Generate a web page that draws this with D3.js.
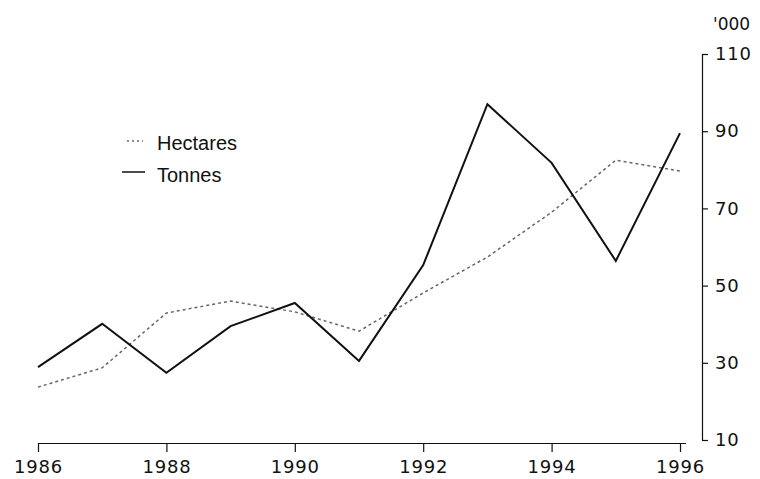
<!DOCTYPE html>
<html>
<head>
<meta charset="utf-8">
<script src="https://cdn.jsdelivr.net/npm/d3@7"></script>
<style>
  html, body { margin: 0; padding: 0; background: #fff; }
  svg { display: block; }
  .tick text { font-family: "DejaVu Sans", sans-serif; font-size: 18px; fill: #111; letter-spacing: 0.8px; }
</style>
</head>
<body>
<svg id="chart" width="760" height="479"></svg>
<script>
const years = [1986, 1987, 1988, 1989, 1990, 1991, 1992, 1993, 1994, 1995, 1996];
const hectares = [23.7, 28.7, 42.9, 46.0, 43.2, 38.2, 48.1, 57.4, 69.0, 82.5, 79.7];
const tonnes = [28.9, 40.1, 27.4, 39.5, 45.5, 30.5, 55.3, 97.0, 81.8, 56.4, 89.5];
const xTicks = [1986, 1988, 1990, 1992, 1994, 1996];
const yTicks = [10, 30, 50, 70, 90, 110];
const seriesNames = ["Hectares", "Tonnes"];
const unitLabel = "'000";

const svg = d3.select("#chart");
const x = d3.scaleLinear().domain([1986, 1996]).range([38, 680]);
const y = d3.scaleLinear().domain([10, 110]).range([440, 54]);

// X axis
const xAxis = svg.append("g").attr("transform", "translate(0,443)")
  .call(d3.axisBottom(x).tickValues(xTicks).tickFormat(d3.format("d")).tickSize(9).tickSizeOuter(0).tickPadding(8));
xAxis.select(".domain").attr("d", "M39,0.5H686").attr("stroke", "#111").attr("stroke-width", 1.2);
xAxis.selectAll(".tick line").attr("stroke", "#111").attr("stroke-width", 1.2);

// Y axis (right side)
const yAxis = svg.append("g").attr("transform", "translate(702,0)")
  .call(d3.axisRight(y).tickValues(yTicks).tickSize(6).tickSizeOuter(0).tickPadding(7));
yAxis.select(".domain").attr("stroke", "#111").attr("stroke-width", 1.2);
yAxis.selectAll(".tick line").attr("stroke", "#111").attr("stroke-width", 1.2);

svg.append("text").attr("x", 713).attr("y", 30)
  .attr("font-family", "DejaVu Sans, sans-serif").attr("font-size", 17)
  .attr("fill", "#111").text(unitLabel);

const line = d3.line().x((d, i) => x(years[i])).y(d => y(d));

svg.append("path").datum(hectares).attr("d", line)
  .attr("fill", "none").attr("stroke", "#666").attr("stroke-width", 1.5)
  .attr("stroke-dasharray", "3,3");

svg.append("path").datum(tonnes).attr("d", line)
  .attr("fill", "none").attr("stroke", "#111").attr("stroke-width", 2)
  .attr("stroke-linejoin", "miter");

// Legend
const leg = svg.append("g");
leg.append("line").attr("x1", 127).attr("x2", 143).attr("y1", 141).attr("y2", 141)
  .attr("stroke", "#666").attr("stroke-width", 1.5).attr("stroke-dasharray", "2,3");
leg.append("line").attr("x1", 122).attr("x2", 145).attr("y1", 172).attr("y2", 172)
  .attr("stroke", "#111").attr("stroke-width", 1.5);
leg.selectAll("text.lg").data(seriesNames).enter().append("text")
  .attr("class", "lg").attr("x", 157).attr("y", (d, i) => 150 + i * 32)
  .attr("font-family", "Liberation Sans, Arial, sans-serif").attr("font-size", 20)
  .attr("fill", "#111").text(d => d);
</script>
</body>
</html>
